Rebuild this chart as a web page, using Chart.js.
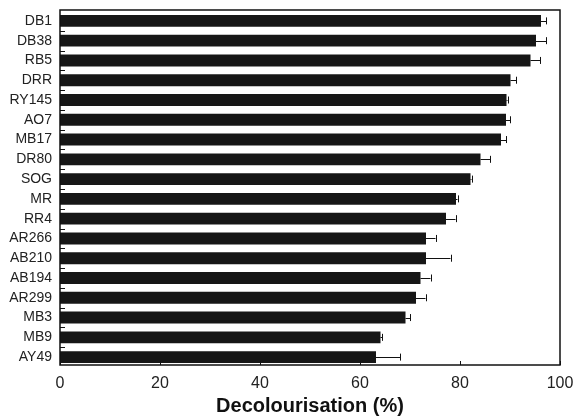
<!DOCTYPE html>
<html>
<head>
<meta charset="utf-8">
<script src="https://cdn.jsdelivr.net/npm/chart.js@4/dist/chart.umd.min.js"></script>
<style>
html,body{margin:0;padding:0;background:#fff;}
#wrap{width:575px;height:416px;position:relative;}
</style>
</head>
<body>
<div id="wrap"><canvas id="c" width="575" height="416"></canvas></div>
<script>
const categories = ["DB1","DB38","RB5","DRR","RY145","AO7","MB17","DR80","SOG","MR","RR4","AR266","AB210","AB194","AR299","MB3","MB9","AY49"];
const decolourisation = [96.2,95.2,94.1,90.1,89.3,89.2,88.2,84.1,82.1,79.2,77.2,73.2,73.2,72.1,71.2,69.1,64.1,63.2];
const errors = [1.0,2.0,1.9,1.1,0.2,0.8,1.0,1.9,0.2,0.3,1.9,1.9,4.9,2.0,1.9,0.9,0.3,4.8];
const xTicks = [0,20,40,60,80,100];

const ink = '#111';

const decorPlugin = {
  id: 'decor',
  afterDatasetsDraw(chart) {
    const ctx = chart.ctx;
    const xs = chart.scales.x, ys = chart.scales.y;
    const area = chart.chartArea;
    const fTop = area.top - 1, fBottom = area.bottom - 2;
    ctx.save();
    ctx.strokeStyle = ink;
    ctx.lineWidth = 1;
    decolourisation.forEach((v, i) => {
      const yc = ys.getPixelForValue(i);
      const x0 = xs.getPixelForValue(v);
      const x1 = xs.getPixelForValue(v + errors[i]);
      ctx.beginPath();
      ctx.moveTo(x0, Math.round(yc) + 0.5);
      ctx.lineTo(x1, Math.round(yc) + 0.5);
      ctx.moveTo(Math.round(x1) + 0.5, yc - 3.5);
      ctx.lineTo(Math.round(x1) + 0.5, yc + 3.5);
      ctx.stroke();
    });
    for (let i = 0; i < categories.length - 1; i++) {
      const yb = (ys.getPixelForValue(i) + ys.getPixelForValue(i + 1)) / 2;
      ctx.beginPath();
      ctx.moveTo(area.left, Math.round(yb) + 0.5);
      ctx.lineTo(area.left + 5, Math.round(yb) + 0.5);
      ctx.stroke();
    }
    xTicks.forEach(t => {
      const xp = Math.round(xs.getPixelForValue(t)) + 0.5;
      ctx.beginPath();
      ctx.moveTo(xp, fBottom);
      ctx.lineTo(xp, fBottom - 4);
      ctx.stroke();
    });
    // clear anything below the frame bottom inside the plot
    ctx.fillStyle = '#fff';
    ctx.fillRect(area.left, fBottom, area.right - area.left, area.bottom - fBottom + 1);
    ctx.lineWidth = 1.5;
    ctx.strokeRect(area.left, fTop, area.right - area.left, fBottom - fTop);
    ctx.restore();
  }
};

new Chart(document.getElementById('c'), {
  type: 'bar',
  data: {
    labels: categories,
    datasets: [{
      data: decolourisation,
      backgroundColor: '#161616',
      borderWidth: 0,
      barPercentage: 0.6,
      categoryPercentage: 1.0
    }]
  },
  options: {
    indexAxis: 'y',
    responsive: false,
    animation: false,
    devicePixelRatio: 1,
    layout: { padding: { left: 0, right: 15, top: 11, bottom: 0 } },
    plugins: { legend: { display: false }, tooltip: { enabled: false } },
    scales: {
      x: {
        min: 0, max: 100,
        afterBuildTicks(s) { s.ticks = xTicks.map(v => ({ value: v })); },
        afterFit(s) { s.height = 49; s.paddingLeft = 0; s.paddingRight = 0; },
        grid: { display: false, drawTicks: false },
        border: { display: false },
        ticks: {
          padding: 7,
          color: '#222',
          font: { family: 'Liberation Sans, Arial, sans-serif', size: 16 },
          maxRotation: 0
        },
        title: {
          display: true,
          text: 'Decolourisation (%)',
          color: '#111',
          font: { family: 'Liberation Sans, Arial, sans-serif', size: 20, weight: 'bold', lineHeight: 1.0 },
          padding: { top: 0, bottom: 0 }
        }
      },
      y: {
        afterFit(s) { s.width = 60; s.paddingTop = 0; s.paddingBottom = 0; },
        grid: { display: false, drawTicks: false },
        border: { display: false },
        ticks: {
          padding: 8,
          color: '#222',
          autoSkip: false,
          font: { family: 'Liberation Sans, Arial, sans-serif', size: 14 }
        }
      }
    }
  },
  plugins: [decorPlugin]
});
</script>
</body>
</html>
